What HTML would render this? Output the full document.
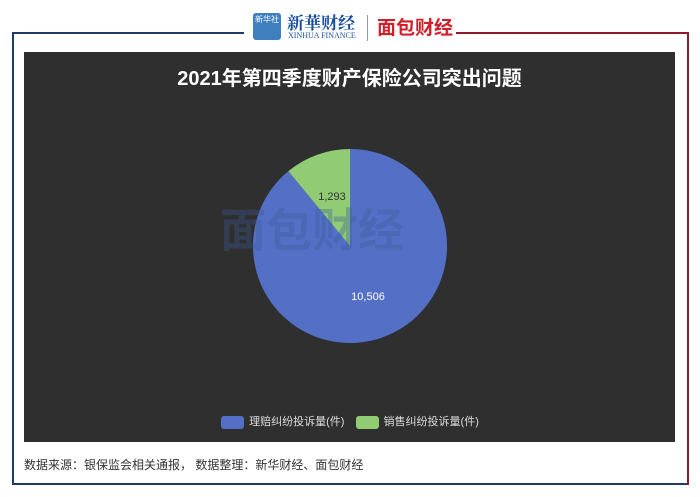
<!DOCTYPE html>
<html><head><meta charset="utf-8"><style>
body{margin:0;width:700px;height:497px;background:#fff;position:relative;overflow:hidden;font-family:"Liberation Sans","Noto Sans CJK SC",sans-serif}
.abs{position:absolute}
</style></head><body>
<div class="abs" style="left:12px;top:32px;width:2px;height:453px;background:#1f3a6b"></div>
<div class="abs" style="left:12px;top:483px;width:677px;height:2px;background:#1f3a6b"></div>
<div class="abs" style="left:12px;top:32px;width:232px;height:2px;background:#1f3a6b"></div>
<div class="abs" style="left:456px;top:32px;width:233px;height:2px;background:#8b1a2b"></div>
<div class="abs" style="left:687px;top:32px;width:2px;height:453px;background:#8b1a2b"></div>
<div class="abs" style="left:253px;top:13px;width:28px;height:27px;background:#3f7fc0;border-radius:3px;color:#fff;font-size:8px;text-align:center;line-height:14px">新华社</div>
<div class="abs" style="left:287px;top:9px;color:#1a4fa0;font-size:17px;font-weight:bold;font-family:'Noto Serif CJK SC',serif">新華财经</div>
<div class="abs" style="left:288px;top:31px;color:#1a4fa0;font-size:8px;font-family:'Liberation Serif',serif">XINHUA FINANCE</div>
<div class="abs" style="left:367px;top:15px;width:1px;height:26px;background:#999"></div>
<div class="abs" style="left:377px;top:13px;color:#d0202a;font-size:19px;font-weight:bold">面包财经</div>
<div class="abs" style="left:24px;top:52px;width:651px;height:390px;background:#2f2f2f"></div>
<div class="abs" style="left:24px;top:62px;width:651px;text-align:center;color:#fff;font-size:20px;font-weight:bold">2021年第四季度财产保险公司突出问题</div>
<svg class="abs" style="left:0;top:0" width="700" height="497">
<g id="slices"></g>
<text x="312" y="234" font-size="46" font-weight="bold" fill="#3b5a9a" opacity="0.35" text-anchor="middle" style="font-family:'Noto Sans CJK SC',sans-serif" dominant-baseline="middle">面包财经</text>
<g id="labels"></g>
</svg>
<div class="abs" style="left:0;top:413px;width:700px;text-align:center;font-size:11px;color:#ddd">
<span><span style="display:inline-block;width:23px;height:13px;background:#5470c6;border-radius:3px;vertical-align:middle;margin-right:5px"></span>理赔纠纷投诉量(件)</span>
<span style="margin-left:8px"><span style="display:inline-block;width:23px;height:13px;background:#91cc75;border-radius:3px;vertical-align:middle;margin-right:5px"></span>销售纠纷投诉量(件)</span>
</div>
<div class="abs" style="left:24px;top:456px;font-size:12px;color:#333">数据来源：银保监会相关通报， 数据整理：新华财经、面包财经</div>
<script>
const categories=["理赔纠纷投诉量(件)","销售纠纷投诉量(件)"];
const values=[10506,1293];
const labels=["10,506","1,293"];
const colors=["#5470c6","#91cc75"];
const cx=350,cy=246,r=97;
const total=values.reduce((a,b)=>a+b,0);
const ns="http://www.w3.org/2000/svg";
let a=0;
const g=document.getElementById('slices'),lg=document.getElementById('labels');
values.forEach((v,i)=>{
  const s=a,e=a+v/total*2*Math.PI;a=e;
  const p=t=>[cx+r*Math.sin(t),cy-r*Math.cos(t)];
  const [x1,y1]=p(s),[x2,y2]=p(e);
  const path=document.createElementNS(ns,'path');
  path.setAttribute('d',`M${cx},${cy}L${x1},${y1}A${r},${r} 0 ${e-s>Math.PI?1:0} 1 ${x2},${y2}Z`);
  path.setAttribute('fill',colors[i]);
  
  
  g.appendChild(path);
  const m=(s+e)/2;
  const t=document.createElementNS(ns,'text');
  t.setAttribute('x',cx+r*0.55*Math.sin(m));
  t.setAttribute('y',cy-r*0.55*Math.cos(m)+4);
  t.setAttribute('text-anchor','middle');
  t.setAttribute('font-size','11');
  t.setAttribute('fill',i==0?'#fff':'#333');
  t.textContent=labels[i];
  
  
  lg.appendChild(t);
});
</script>
</body></html>
